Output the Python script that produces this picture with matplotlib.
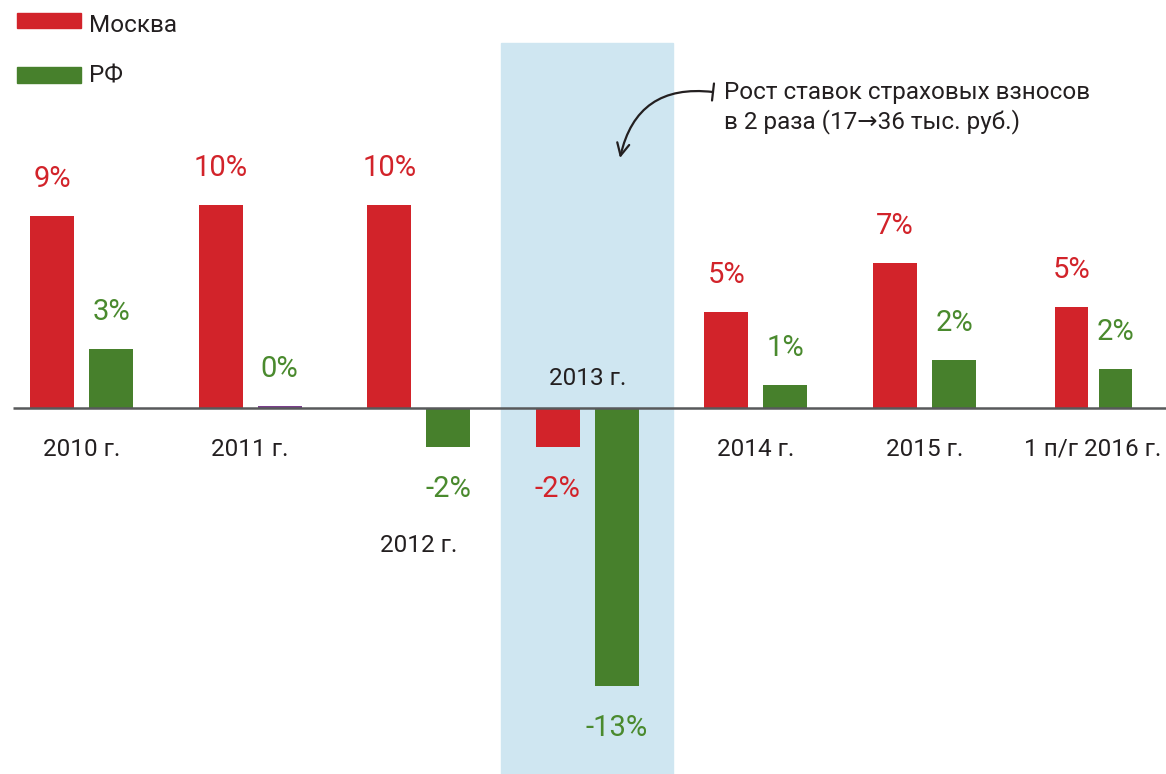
import numpy as np
import matplotlib
matplotlib.use("Agg")
import matplotlib.pyplot as plt
from matplotlib.patches import Rectangle

plt.rcParams['font.family'] = ['Roboto', 'DejaVu Sans']

# data
years = ["2010 г.", "2011 г.", "2012 г.", "2013 г.", "2014 г.", "2015 г.", "1 п/г 2016 г."]
moscow = [8.97, 9.49, 9.49, -1.82, 4.49, 6.78, 4.72]
rf = [2.76, 0.08, -1.82, -13.0, 1.07, 2.24, 1.82]
moscow_labels = ["9%", "10%", "10%", "-2%", "5%", "7%", "5%"]
rf_labels = ["3%", "0%", "-2%", "-13%", "1%", "2%", "2%"]
year_label_y = [-1.92, -1.92, -6.4, 1.4, -1.92, -1.92, -1.92]

RED = '#d2232a'
GREEN = '#47802c'
TXT = '#231f20'

fig = plt.figure(figsize=(11.66, 7.74), dpi=100)
ax = fig.add_axes([0, 0, 1, 1])
ax.set_xlim(-0.4834, 6.432)
ax.set_ylim(-17.10, 19.07)
ax.axis('off')

# highlighted year
ax.axvspan(2.49, 3.51, ymin=0, ymax=0.944, color='#cfe6f1', zorder=0)

x = np.arange(len(years))
width = np.array([0.261] * 6 + [0.196])
offset = np.array([0.175] * 6 + [0.1305])

ax.bar(x - offset, moscow, width=width, color=RED, zorder=2)
rf_colors = [GREEN] * len(rf)
rf_colors[1] = '#7b3f8c'
ax.bar(x + offset, rf, width=width, color=rf_colors, zorder=2)

ax.plot([-0.405, 6.432], [0, 0], color='#58595b', lw=1.8, zorder=3,
        solid_capstyle='butt')

for i in range(len(years)):
    for val, lab, xx, col in [(moscow[i], moscow_labels[i], x[i] - offset[i], RED),
                              (rf[i], rf_labels[i], x[i] + offset[i], '#4a8a2e')]:
        y = val + 1.75 if val > 0 else val - 1.95
        ax.text(xx, y, lab, ha='center', va='center', fontsize=21, color=col)
    ax.text(x[i], year_label_y[i], years[i], ha='center', va='center',
            fontsize=17.5, color=TXT)

# legend
fig.patches.append(Rectangle((0.0146, 0.9638), 0.0549, 0.0194, color=RED,
                             transform=fig.transFigure, figure=fig))
fig.patches.append(Rectangle((0.0146, 0.8927), 0.0549, 0.0207, color=GREEN,
                             transform=fig.transFigure, figure=fig))
fig.text(0.0763, 0.9587, "Москва", fontsize=17.5, color=TXT, va='baseline')
fig.text(0.0763, 0.8940, "РФ", fontsize=17.5, color=TXT, va='baseline')

# annotation
fig.text(724 / 1166, 1 - 128 / 774, "Рост ставок страховых взносов\nв 2 раза (17→36 тыс. руб.)",
         fontsize=17.5, color=TXT, va='baseline', linespacing=1.25)
ax.annotate("", xy=(620 / 1166, 1 - 158 / 774), xytext=(713 / 1166, 1 - 92 / 774),
            xycoords='figure fraction', textcoords='figure fraction',
            arrowprops=dict(arrowstyle="]->,widthA=0.28,lengthA=0",
                            mutation_scale=22,
                            connectionstyle="arc3,rad=0.45", color='#231f20', lw=1.6,
                            shrinkA=0, shrinkB=0))

fig.savefig("out.png", dpi=100)
